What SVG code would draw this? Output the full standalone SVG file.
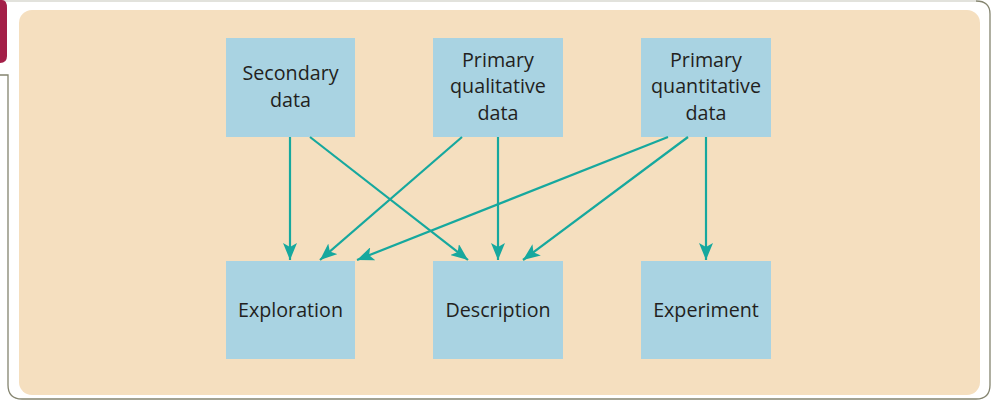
<svg xmlns="http://www.w3.org/2000/svg" width="992" height="402" viewBox="0 0 992 402">
<style>
.box{fill:#a9d3e2}
.lbl{font-family:"Open Sans","Noto Sans",sans-serif;font-size:19.7px;fill:#231f20;text-anchor:middle;font-variant-ligatures:none}
.con{stroke:#16a89e;stroke-width:2.2;fill:none;marker-end:url(#ah)}
</style>
<defs>
<marker id="ah" markerUnits="userSpaceOnUse" markerWidth="18" markerHeight="14" viewBox="0 0 18 14" refX="17" refY="7" orient="auto">
<path d="M0,0 L17,7 L0,14 L4,7 Z" fill="#16a89e"/>
</marker>
</defs>
<rect width="992" height="402" fill="#ffffff"/>
<path d="M0,75 H8 V385 Q8,399 22,399 H976 Q990,399 990,385 V14 Q990,1 976,1" fill="none" stroke="#84846f" stroke-width="1.3"/>
<path d="M976,1 H0" fill="none" stroke="#d8d8d0" stroke-width="1.3"/>
<path d="M0,0 H2 Q7,0 7,8 V56 Q7,63 0,63 Z" fill="#a31f48"/>
<rect x="19" y="10" width="961" height="385" rx="13" fill="#f5dfbf"/>
<g id="n-secondary"><rect class="box" x="226" y="38" width="129" height="99"/><text class="lbl" x="290.5" y="80">Secondary</text><text class="lbl" x="290.5" y="107">data</text></g>
<g id="n-primqual"><rect class="box" x="433" y="38" width="130" height="99"/><text class="lbl" x="498" y="67">Primary</text><text class="lbl" x="498" y="93">qualitative</text><text class="lbl" x="498" y="120">data</text></g>
<g id="n-primquant"><rect class="box" x="641" y="38" width="130" height="99"/><text class="lbl" x="706" y="67">Primary</text><text class="lbl" x="706" y="93">quantitative</text><text class="lbl" x="706" y="120">data</text></g>
<g id="n-exploration"><rect class="box" x="226" y="261" width="129" height="98"/><text class="lbl" x="290.5" y="317">Exploration</text></g>
<g id="n-description"><rect class="box" x="433" y="261" width="130" height="98"/><text class="lbl" x="498" y="317">Description</text></g>
<g id="n-experiment"><rect class="box" x="641" y="261" width="130" height="98"/><text class="lbl" x="706" y="317">Experiment</text></g>
<g id="connectors">
<line class="con" x1="290" y1="137" x2="290" y2="260"/>
<line class="con" x1="310" y1="137" x2="468" y2="260"/>
<line class="con" x1="462" y1="137" x2="320" y2="260"/>
<line class="con" x1="498" y1="137" x2="498" y2="260"/>
<line class="con" x1="668" y1="137" x2="357" y2="260"/>
<line class="con" x1="688" y1="137" x2="523" y2="260"/>
<line class="con" x1="706" y1="137" x2="706" y2="260"/>
</g>
</svg>
